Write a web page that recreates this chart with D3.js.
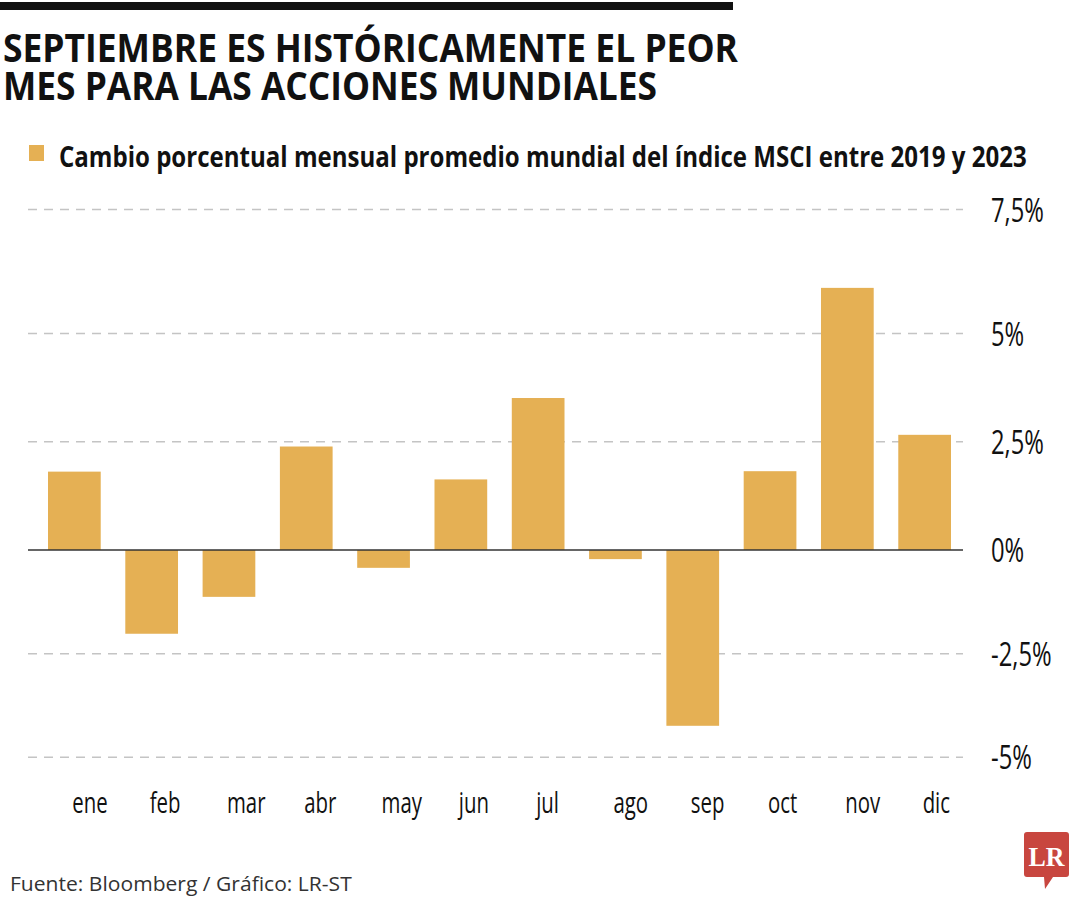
<!DOCTYPE html>
<html>
<head>
<meta charset="utf-8">
<script src="https://cdn.jsdelivr.net/npm/d3@7"></script>
<style>
  html, body { margin: 0; padding: 0; background: #fff; }
  svg { display: block; }
</style>
</head>
<body>
<svg id="chart" width="1080" height="900"></svg>
<script>
// ---- data ----
const months = ["ene","feb","mar","abr","may","jun","jul","ago","sep","oct","nov","dic"];
const values = [1.81, -2.02, -1.13, 2.39, -0.43, 1.63, 3.51, -0.22, -4.24, 1.82, 5.92, 2.66];
const tickValues = [7.5, 5, 2.5, 0, -2.5, -5];
const tickLabels = ["7,5%", "5%", "2,5%", "0%", "-2,5%", "-5%"];
const titleLines = ["SEPTIEMBRE ES HISTÓRICAMENTE EL PEOR", "MES PARA LAS ACCIONES MUNDIALES"];
const legendLabel = "Cambio porcentual mensual promedio mundial del índice MSCI entre 2019 y 2023";
const sourceText = "Fuente: Bloomberg / Gráfico: LR-ST";

// ---- styles ----
const barColor = "#e5b054";
const fontFam = "'Open Sans', 'Noto Sans', sans-serif";

const svg = d3.select("#chart");

// horizontally condense a text placed at (px, py) by factor, or to a target width
function condenseText(sel, px, py, factor, target) {
  sel.each(function(d, i) {
    const len = this.getComputedTextLength();
    const sx = target ? (typeof target === "function" ? target(d, i) : target) / len : factor;
    const X = typeof px === "function" ? px(d, i) : px;
    const Y = typeof py === "function" ? py(d, i) : py;
    d3.select(this).attr("x", 0).attr("y", 0)
      .attr("transform", `translate(${X},${Y}) scale(${sx},1)`);
  });
}

// top bar
svg.append("rect").attr("x", 0).attr("y", 2).attr("width", 733).attr("height", 8).attr("fill", "#111");

// title (one text, two lines)
const title = svg.append("text")
  .attr("font-family", fontFam)
  .attr("font-weight", 700)
  .attr("font-size", 39)
  .attr("fill", "#111");
title.selectAll("tspan").data(titleLines).join("tspan")
  .attr("x", 3)
  .attr("y", (d, i) => 62 + i * 38)
  .attr("textLength", (d, i) => i === 0 ? 735 : 654)
  .attr("lengthAdjust", "spacingAndGlyphs")
  .text(d => d);

// legend
svg.append("rect").attr("x", 29).attr("y", 145).attr("width", 15).attr("height", 16).attr("fill", barColor);
const leg = svg.append("text")
  .attr("font-family", fontFam).attr("font-weight", 700).attr("font-size", 28)
  .attr("fill", "#111")
  .text(legendLabel);
condenseText(leg, 59, 167, null, 968);

// scales
const x = d3.scaleBand().domain(months).range([48, 951]).paddingInner(0.318).paddingOuter(0);
const y = d3.scaleLinear().domain([-5, 0, 5, 7.5]).range([757.3, 550, 333.5, 209.5]);

const gridX0 = 28, gridX1 = 963;

// gridlines
svg.append("g").selectAll("line").data(tickValues.filter(v => v !== 0)).join("line")
  .attr("x1", gridX0).attr("x2", gridX1)
  .attr("y1", d => y(d)).attr("y2", d => y(d))
  .attr("stroke", "#c4c4c4").attr("stroke-width", 1.5)
  .attr("stroke-dasharray", "9,7");

// bars
svg.append("g").selectAll("rect").data(values).join("rect")
  .attr("x", (d, i) => x(months[i]))
  .attr("width", x.bandwidth())
  .attr("y", d => y(Math.max(0, d)))
  .attr("height", d => Math.abs(y(d) - y(0)))
  .attr("fill", barColor);

// zero line
svg.append("line").attr("x1", gridX0).attr("x2", gridX1).attr("y1", y(0)).attr("y2", y(0))
  .attr("stroke", "#333").attr("stroke-width", 1.5);

// y tick labels (right)
const yt = svg.append("g").selectAll("text").data(tickValues).join("text")
  .attr("font-family", fontFam).attr("font-size", 33).attr("fill", "#111")
  .text((d, i) => tickLabels[i]);
condenseText(yt, 991, d => y(d) + 12, 0.72);

// month labels
const mt = svg.append("g").selectAll("text").data(months).join("text")
  .attr("font-family", fontFam).attr("font-size", 30).attr("fill", "#111")
  .text(d => d);
condenseText(mt, d => x(d) + x.bandwidth() / 2 - 2, 813, 0.68);

// source
const src = svg.append("text")
  .attr("font-family", fontFam).attr("font-size", 20).attr("fill", "#333")
  .text(sourceText);
condenseText(src, 10, 891, null, 342);

// LR logo
const logo = svg.append("g");
logo.append("path")
  .attr("d", "M1027,832 H1066 Q1069,832 1069,835 V874 Q1069,877 1066,877 H1053 L1045,889 L1044,877 H1027 Q1024,877 1024,874 V835 Q1024,832 1027,832 Z")
  .attr("fill", "#c8463f");
logo.append("text").attr("x", 1046.5).attr("y", 866).attr("text-anchor", "middle")
  .attr("font-family", "'Liberation Serif', 'DejaVu Serif', serif").attr("font-weight", 700)
  .attr("font-size", 27).attr("fill", "#fff").attr("textLength", 36).attr("lengthAdjust", "spacingAndGlyphs")
  .text("LR");
</script>
</body>
</html>
